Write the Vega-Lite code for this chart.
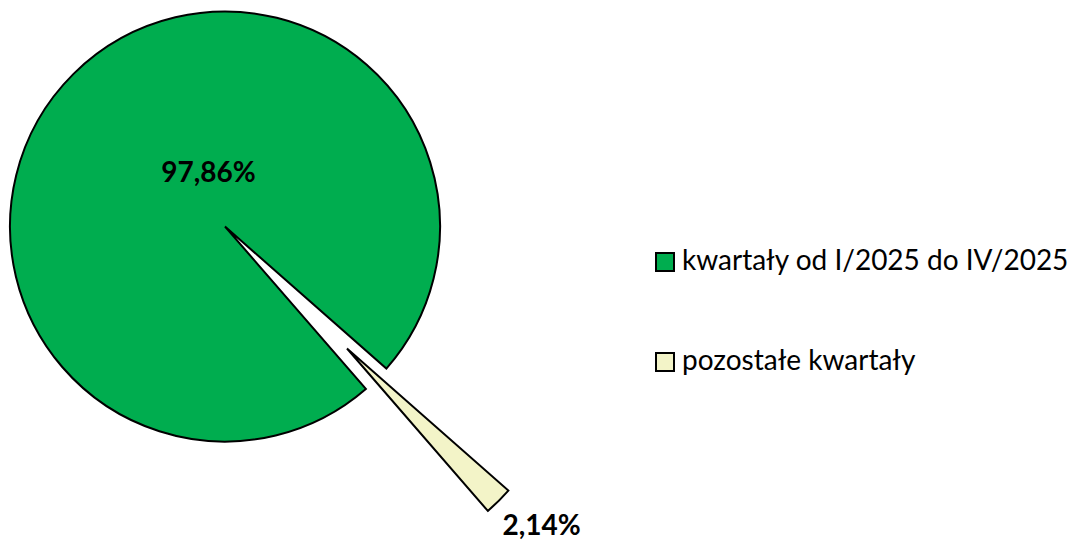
{
  "$schema": "https://vega.github.io/schema/vega-lite/v6.json",
  "width": 450,
  "height": 453,
  "autosize": {"type": "none"},
  "padding": {"left": 0, "top": 0, "right": 630, "bottom": 89},
  "background": "white",
  "config": {"view": {"stroke": null}},
  "data": {
    "values": [
      {"cat": "kwartały od I/2025 do IV/2025", "value": 97.86, "label": "97,86%"},
      {"cat": "pozostałe kwartały", "value": 2.14, "label": "2,14%"}
    ]
  },
  "encoding": {
    "theta": {"field": "value", "type": "quantitative", "stack": true, "scale": {"range": [2.4272, 8.7104]}},
    "order": {"field": "cat", "sort": "ascending"}
  },
  "layer": [
    {
      "mark": {"type": "arc", "radius": 215, "stroke": "black", "strokeWidth": 2},
      "encoding": {
        "color": {
          "field": "cat", "type": "nominal",
          "scale": {"domain": ["kwartały od I/2025 do IV/2025", "pozostałe kwartały"], "range": ["#00AD4F", "#F3F4C8"]},
          "legend": {
            "title": null, "orient": "none", "legendX": 651, "legendY": 248,
            "symbolType": "square", "symbolSize": 324, "symbolStrokeColor": "black", "symbolStrokeWidth": 2, "symbolOpacity": 1,
            "labelFont": "Lato", "labelFontSize": 28, "labelColor": "black", "labelOffset": 3, "rowPadding": 72, "labelLimit": 600
          }
        },
        "opacity": {"condition": {"test": "datum.cat === 'pozostałe kwartały'", "value": 0}, "value": 1}
      }
    },
    {
      "mark": {"type": "arc", "radius": 215, "stroke": "black", "strokeWidth": 2, "xOffset": 122, "yOffset": 122},
      "encoding": {
        "color": {"field": "cat", "type": "nominal"},
        "opacity": {"condition": {"test": "datum.cat === 'pozostałe kwartały'", "value": 1}, "value": 0}
      }
    },
    {
      "mark": {"type": "text", "radius": 57, "thetaOffset": 0.4887, "font": "Lato", "fontSize": 28, "fontWeight": "bold", "color": "black", "align": "center", "baseline": "middle", "dy": 2},
      "encoding": {
        "text": {"condition": {"test": "datum.cat !== 'pozostałe kwartały'", "field": "label"}, "value": ""}
      }
    },
    {
      "mark": {"type": "text", "radius": 264, "thetaOffset": -0.047, "xOffset": 122, "yOffset": 122, "font": "Lato", "fontSize": 28, "fontWeight": "bold", "color": "black", "align": "center", "baseline": "middle"},
      "encoding": {
        "text": {"condition": {"test": "datum.cat === 'pozostałe kwartały'", "field": "label"}, "value": ""}
      }
    }
  ]
}
